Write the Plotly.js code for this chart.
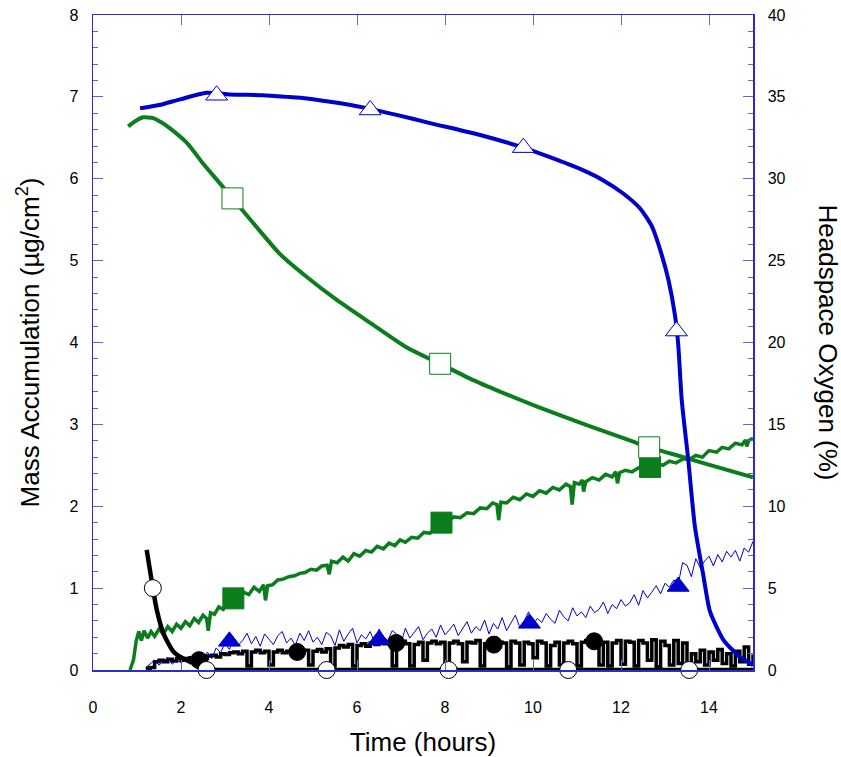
<!DOCTYPE html>
<html>
<head>
<meta charset="utf-8">
<script src="https://cdn.plot.ly/plotly-3.0.1.min.js"></script>
<style>
  html, body { margin: 0; padding: 0; background: #ffffff; }
  #chart { width: 841px; height: 757px; }
</style>
</head>
<body>
<div id="chart"></div>
<script>
// ---------- Headspace oxygen (%), right axis ----------
const tO2Blue = [1.07, 1.5, 1.98, 2.58, 3.11, 3.87, 4.4, 4.86, 5.39, 6.14, 6.9, 7.66, 8.8, 9.78, 10.4, 11.07, 11.6, 12.05, 12.43, 12.7, 12.92, 13.08, 13.23, 13.3, 13.38, 13.53, 13.68, 13.87, 14.02, 14.33, 14.7, 15.0];
const o2Blue  = [34.3, 34.5, 34.85, 35.25, 35.15, 35.1, 35.0, 34.9, 34.7, 34.36, 33.9, 33.4, 32.67, 31.9, 31.3, 30.6, 29.9, 29.1, 28.2, 27.1, 25.4, 23.8, 21.6, 19.9, 16.5, 12.8, 8.75, 5.8, 3.6, 1.83, 0.8, 0.3];
const o2BlueMarkT = [2.81, 6.3, 9.78, 13.26];
const o2BlueMarkV = [35.1, 34.2, 31.9, 20.7];

const tO2Green = [0.8, 0.95, 1.14, 1.37, 1.55, 1.75, 2.13, 2.51, 2.89, 3.17, 3.64, 4.25, 4.86, 5.54, 6.3, 7.13, 7.89, 8.64, 9.25, 10.08, 11.22, 12.28, 12.64, 13.42, 14.17, 15.0];
const o2Green  = [33.2, 33.5, 33.75, 33.7, 33.45, 33.08, 32.2, 30.9, 29.7, 28.8, 27.3, 25.4, 24.0, 22.6, 21.2, 19.7, 18.7, 17.7, 17.0, 16.1, 14.96, 13.94, 13.6, 13.0, 12.4, 11.77];
const o2GreenMarkT = [3.17, 7.89, 12.64];
const o2GreenMarkV = [28.8, 18.7, 13.6];

const tO2Black = [1.22, 1.36, 1.45, 1.6, 1.83, 2.13, 2.43, 2.6, 3.0, 15.0];
const o2Black  = [7.33, 5.0, 3.66, 2.24, 1.12, 0.6, 0.3, 0.05, 0, 0];
const o2BlackMarkT = [1.36, 2.58, 5.31, 8.08, 10.8, 13.55];
const o2BlackMarkV = [5.0, 0, 0, 0, 0, 0];

// ---------- Mass accumulation (ug/cm2), left axis ----------
const tMassGreen = [0.84, 0.92, 0.98, 1.04, 1.1, 1.16, 1.24, 1.32, 1.4, 1.5,
  1.6, 1.7, 1.8, 1.9, 2.0, 2.1, 2.2, 2.3, 2.4, 2.5,
  2.58, 2.62, 2.67, 2.76, 2.86, 2.96, 3.06, 3.19, 3.3, 3.42,
  3.54, 3.66, 3.78, 3.88, 3.92, 3.97, 4.08, 4.2, 4.32, 4.45,
  4.58, 4.7, 4.82, 4.95, 5.08, 5.2, 5.32, 5.37, 5.42, 5.55,
  5.68, 5.8, 5.93, 6.06, 6.2, 6.33, 6.46, 6.6, 6.73, 6.86,
  6.98, 7.1, 7.24, 7.38, 7.52, 7.66, 7.8, 7.92, 8.05, 8.2,
  8.35, 8.5, 8.65, 8.8, 8.95, 9.08, 9.18, 9.22, 9.27, 9.4,
  9.55, 9.7, 9.85, 10.0, 10.15, 10.3, 10.45, 10.6, 10.75, 10.85,
  10.89, 10.94, 11.05, 11.12, 11.15, 11.2, 11.35, 11.5, 11.65, 11.8,
  11.88, 11.92, 11.97, 12.1, 12.25, 12.4, 12.55, 12.66, 12.8, 12.95,
  13.1, 13.25, 13.42, 13.55, 13.7, 13.85, 14.0, 14.17, 14.3, 14.45,
  14.6, 14.75, 14.83, 14.86, 14.9, 15.0];
const massGreen = [0.00, 0.12, 0.35, 0.47, 0.36, 0.48, 0.39, 0.47, 0.41, 0.50,
  0.44, 0.53, 0.47, 0.56, 0.51, 0.59, 0.54, 0.63, 0.58, 0.67,
  0.63, 0.48, 0.70, 0.68, 0.77, 0.74, 0.84, 0.875, 0.88, 0.95,
  0.92, 1.01, 0.96, 1.04, 0.85, 1.03, 1.04, 1.10, 1.11, 1.14,
  1.15, 1.18, 1.19, 1.23, 1.22, 1.27, 1.28, 1.17, 1.33, 1.31,
  1.38, 1.33, 1.42, 1.39, 1.46, 1.44, 1.51, 1.48, 1.55, 1.52,
  1.59, 1.56, 1.62, 1.61, 1.68, 1.67, 1.75, 1.80, 1.81, 1.87,
  1.86, 1.92, 1.91, 1.98, 1.97, 2.04, 2.02, 1.83, 2.05, 2.04,
  2.11, 2.08, 2.15, 2.12, 2.19, 2.16, 2.23, 2.20, 2.27, 2.24,
  2.02, 2.29, 2.27, 2.32, 2.18, 2.30, 2.35, 2.32, 2.39, 2.36,
  2.42, 2.28, 2.41, 2.44, 2.42, 2.47, 2.45, 2.48, 2.52, 2.50,
  2.55, 2.53, 2.58, 2.57, 2.62, 2.60, 2.68, 2.66, 2.72, 2.70,
  2.77, 2.75, 2.81, 2.73, 2.80, 2.83];
const massGreenMarkT = [3.19, 7.92, 12.66];
const massGreenMarkV = [0.875, 1.80, 2.48];

const tNoise = [1.2, 1.3, 1.4, 1.5, 1.6, 1.7, 1.8, 1.9, 2.0, 2.1,
  2.2, 2.3, 2.4, 2.5, 2.6, 2.7, 2.8, 2.9, 3.0, 3.1,
  3.2, 3.3, 3.4, 3.5, 3.6, 3.7, 3.8, 3.9, 4.0, 4.1,
  4.2, 4.3, 4.4, 4.5, 4.6, 4.7, 4.8, 4.9, 5.0, 5.1,
  5.2, 5.3, 5.4, 5.5, 5.6, 5.7, 5.8, 5.9, 6.0, 6.1,
  6.2, 6.3, 6.4, 6.5, 6.6, 6.7, 6.8, 6.9, 7.0, 7.1,
  7.2, 7.3, 7.4, 7.5, 7.6, 7.7, 7.8, 7.9, 8.0, 8.1,
  8.2, 8.3, 8.4, 8.5, 8.6, 8.7, 8.8, 8.9, 9.0, 9.1,
  9.2, 9.3, 9.4, 9.5, 9.6, 9.7, 9.8, 9.9, 10.0, 10.1,
  10.2, 10.3, 10.4, 10.5, 10.6, 10.7, 10.8, 10.9, 11.0, 11.1,
  11.2, 11.3, 11.4, 11.5, 11.6, 11.7, 11.8, 11.9, 12.0, 12.1,
  12.2, 12.3, 12.4, 12.5, 12.6, 12.7, 12.8, 12.9, 13.0, 13.1,
  13.2, 13.3, 13.4, 13.5, 13.6, 13.7, 13.8, 13.9, 14.0, 14.1,
  14.2, 14.3, 14.4, 14.5, 14.6, 14.7, 14.8, 14.9, 15.0];
const massBlue = [0.03, 0.08, 0.12, 0.06, 0.10, 0.15, 0.07, 0.12, 0.09, 0.14,
  0.07, 0.13, 0.18, 0.10, 0.22, 0.14, 0.27, 0.21, 0.33, 0.25,
  0.39, 0.30, 0.36, 0.45, 0.32, 0.41, 0.29, 0.44, 0.38, 0.31,
  0.42, 0.47, 0.33, 0.39, 0.30, 0.45, 0.36, 0.48, 0.34, 0.40,
  0.31, 0.46, 0.42, 0.30, 0.49, 0.35, 0.44, 0.51, 0.33, 0.43,
  0.38, 0.47, 0.34, 0.50, 0.41, 0.36, 0.48, 0.44, 0.33, 0.51,
  0.39, 0.46, 0.53, 0.37, 0.45, 0.50, 0.40, 0.55, 0.43, 0.49,
  0.56, 0.42, 0.51, 0.59, 0.45, 0.53, 0.48, 0.61, 0.44, 0.57,
  0.50, 0.64, 0.48, 0.58, 0.67, 0.52, 0.60, 0.71, 0.55, 0.63,
  0.58, 0.69, 0.62, 0.57, 0.73, 0.65, 0.60, 0.76, 0.66, 0.71,
  0.64, 0.78, 0.70, 0.74, 0.83, 0.69, 0.80, 0.75, 0.86, 0.78,
  0.82, 0.92, 0.79, 0.97, 0.88, 0.95, 1.03, 0.93, 1.06, 1.01,
  1.10, 1.05, 1.31, 1.28, 1.14, 1.36, 1.25, 1.33, 1.39, 1.27,
  1.41, 1.32, 1.45, 1.38, 1.46, 1.33, 1.49, 1.44, 1.57];
const massBlueMarkT = [3.1, 6.5, 9.92, 13.3];
const massBlueMarkV = [0.35, 0.37, 0.57, 1.02];

const massBlack = [0.02, 0.03, 0.10, 0.12, 0.10, 0.13, 0.11, 0.14, 0.12, 0.14,
  0.15, 0.13, 0.16, 0.14, 0.17, 0.18, 0.16, 0.20, 0.19, 0.21,
  0.22, 0.20, 0.23, 0.05, 0.22, 0.24, 0.21, 0.23, 0.06, 0.22,
  0.24, 0.21, 0.23, 0.22, 0.25, 0.21, 0.24, 0.06, 0.23, 0.25,
  0.22, 0.26, 0.05, 0.27, 0.30, 0.28, 0.31, 0.05, 0.30, 0.32,
  0.29, 0.33, 0.31, 0.34, 0.32, 0.34, 0.05, 0.33, 0.35, 0.32,
  0.05, 0.31, 0.34, 0.12, 0.33, 0.35, 0.32, 0.34, 0.04, 0.33,
  0.35, 0.32, 0.10, 0.34, 0.33, 0.36, 0.05, 0.32, 0.34, 0.31,
  0.34, 0.33, 0.04, 0.35, 0.33, 0.06, 0.34, 0.32, 0.15, 0.35,
  0.33, 0.05, 0.30, 0.34, 0.06, 0.33, 0.35, 0.32, 0.05, 0.34,
  0.36, 0.33, 0.37, 0.06, 0.34, 0.05, 0.33, 0.36, 0.07, 0.35,
  0.34, 0.05, 0.36, 0.33, 0.12, 0.37, 0.04, 0.35, 0.30, 0.06,
  0.36, 0.08, 0.33, 0.05, 0.20, 0.10, 0.24, 0.06, 0.22, 0.12,
  0.25, 0.08, 0.20, 0.05, 0.23, 0.10, 0.28, 0.07, 0.19];
const massBlackMarkT = [2.41, 4.64, 6.89, 9.11, 11.39];
const massBlackMarkV = [0.12, 0.22, 0.33, 0.31, 0.35];

// ---------- Axis tick labels ----------
const xTicks = [0, 2, 4, 6, 8, 10, 12, 14];
const yLeftTicks = [0, 1, 2, 3, 4, 5, 6, 7, 8];
const yRightTicks = [0, 5, 10, 15, 20, 25, 30, 35, 40];

const BLUE = '#0000cc';
const GREEN = '#0b7d1c';
const BLACK = '#000000';
const FRAME = '#2b2bd0';
const TICK = '#6262e0';
const FONT = 'Arial, "Liberation Sans", Helvetica, sans-serif';

function line(x, y, color, width, axis, shape) {
  const ln = { color: color, width: width };
  if (shape) { ln.shape = shape; if (shape === 'spline') ln.smoothing = 0.6; }
  return { x: x, y: y, type: 'scatter', mode: 'lines', yaxis: axis,
    line: ln, hoverinfo: 'skip', showlegend: false };
}
function marks(x, y, symbol, size, fill, edge, axis) {
  return { x: x, y: y, type: 'scatter', mode: 'markers', yaxis: axis, cliponaxis: false,
    marker: { symbol: symbol, size: size, color: fill, line: { color: edge, width: 1 } },
    hoverinfo: 'skip', showlegend: false };
}

const data = [
  line(tNoise, massBlack, BLACK, 3.5, 'y', 'hv'),
  line(tNoise, massBlue, BLUE, 1, 'y'),
  line(tMassGreen, massGreen, GREEN, 3.5, 'y'),
  line(tO2Green, o2Green, GREEN, 4, 'y2', 'spline'),
  line(tO2Black, o2Black, BLACK, 4.5, 'y2', 'spline'),
  line(tO2Blue, o2Blue, BLUE, 4, 'y2', 'spline'),
  marks(massBlackMarkT, massBlackMarkV, 'circle', 17, BLACK, BLACK, 'y'),
  marks(massBlueMarkT, massBlueMarkV, 'triangle-up', 19, BLUE, BLUE, 'y'),
  marks(massGreenMarkT, massGreenMarkV, 'square', 21, GREEN, GREEN, 'y'),
  marks(o2GreenMarkT, o2GreenMarkV, 'square', 21, '#ffffff', GREEN, 'y2'),
  marks(o2BlueMarkT, o2BlueMarkV, 'triangle-up', 19, '#ffffff', BLUE, 'y2'),
  marks(o2BlackMarkT, o2BlackMarkV, 'circle', 17, '#ffffff', BLACK, 'y2')
];

const layout = {
  width: 841, height: 757,
  margin: { l: 93, r: 88, t: 15, b: 87 },
  paper_bgcolor: '#ffffff', plot_bgcolor: '#ffffff',
  font: { family: FONT, size: 16, color: '#000000' },
  showlegend: false,
  xaxis: {
    range: [0, 15], tickvals: xTicks, ticktext: xTicks.map(String),
    ticks: 'inside', ticklen: 10, tickwidth: 1, tickcolor: TICK,
    showline: true, linecolor: FRAME, linewidth: 1.5, mirror: 'ticks',
    showgrid: false, zeroline: false, ticklabelstandoff: 22,
    tickfont: { size: 16 },
    title: { text: 'Time (hours)', font: { size: 26 }, standoff: 20 }
  },
  yaxis: {
    range: [0, 8], tickvals: yLeftTicks, ticktext: yLeftTicks.map(String),
    ticks: 'inside', ticklen: 10, tickwidth: 1, tickcolor: TICK,
    minor: { dtick: 0.2, tick0: 0, ticks: 'inside', ticklen: 5, tickcolor: TICK, showgrid: false },
    showline: true, linecolor: FRAME, linewidth: 1.5,
    showgrid: false, zeroline: false, ticklabelstandoff: 10,
    tickfont: { size: 16 },
    title: { text: 'Mass Accumulation (µg/cm<sup>2</sup>)', font: { size: 26 }, standoff: 22 }
  },
  yaxis2: {
    overlaying: 'y', side: 'right',
    range: [0, 40], tickvals: yRightTicks, ticktext: yRightTicks.map(String),
    ticks: 'inside', ticklen: 10, tickwidth: 1, tickcolor: TICK,
    minor: { dtick: 1, tick0: 0, ticks: 'inside', ticklen: 5, tickcolor: TICK, showgrid: false },
    showline: true, linecolor: FRAME, linewidth: 1.5,
    showgrid: false, zeroline: false, ticklabelstandoff: 10,
    tickfont: { size: 16 }
  },
  annotations: [{
    text: 'Headspace Oxygen (%)', textangle: 90, showarrow: false,
    xref: 'paper', yref: 'paper', x: 1, y: 0.5, xanchor: 'center', yanchor: 'middle',
    xshift: 75, font: { size: 26, family: FONT, color: '#000000' }
  }]
};

Plotly.newPlot('chart', data, layout, { displayModeBar: false, staticPlot: true });
</script>
</body>
</html>
